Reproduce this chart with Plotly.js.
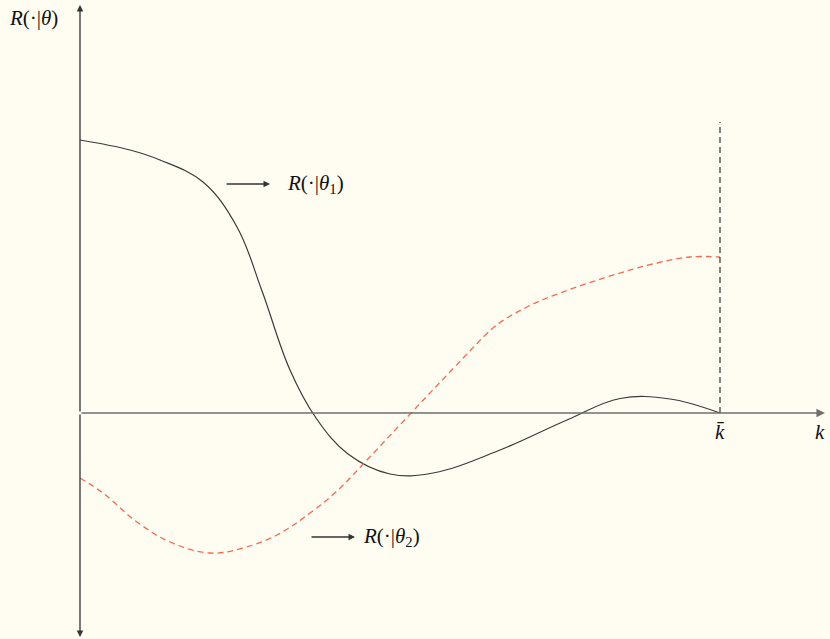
<!DOCTYPE html>
<html>
<head>
<meta charset="utf-8">
<script src="https://cdn.plot.ly/plotly-3.0.1.min.js"></script>
<style>
  html, body { margin: 0; padding: 0; background: #fffdf1; }
  #chart { width: 830px; height: 639px; }
</style>
</head>
<body>
<div id="chart"></div>
<script>
// Return function R(k | theta) for two states, k on [0, kBar]
const kBar = 10;

const kTheta1 = [0, 0.781, 1.25, 1.922, 2.453, 2.844, 3.281, 3.688, 4.188,
  4.844, 5.516, 6.563, 7.609, 8.438, 9.219, 10];
const rTheta1 = [5.46, 5.26, 5.06, 4.62, 3.72, 2.44, 0.86, -0.10, -0.82,
  -1.22, -1.20, -0.74, -0.14, 0.29, 0.28, 0];

const kTheta2 = [0, 0.359, 0.891, 1.406, 2.031, 2.547, 3.078, 3.594, 4.016, 4.484,
  5.203, 5.781, 6.453, 6.672, 6.984, 7.297, 8.234, 9.016, 9.531, 10];
const rTheta2 = [-1.30, -1.60, -2.18, -2.58, -2.80, -2.70, -2.44, -2.00, -1.56, -0.94,
  0.04, 0.82, 1.70, 1.90, 2.12, 2.30, 2.72, 3.00, 3.12, 3.12];

// Height of the dashed marker at k-bar
const kBarTop = 5.82;

const axisTop = 8.16, axisBottom = -4.48, axisRight = 11.64;

const serif = 'Liberation Serif, Times New Roman, serif';

const traces = [
  {
    x: kTheta1, y: rTheta1, mode: 'lines', type: 'scatter',
    line: { color: '#3a3a3a', width: 1.2, shape: 'spline', smoothing: 1.1 },
    hoverinfo: 'skip'
  },
  {
    x: kTheta2, y: rTheta2, mode: 'lines', type: 'scatter',
    line: { color: '#f26b52', width: 1.3, dash: '6px,4px', shape: 'spline', smoothing: 1.1 },
    hoverinfo: 'skip'
  },
  {
    x: [kBar, kBar], y: [0, kBarTop], mode: 'lines', type: 'scatter',
    line: { color: '#222', width: 1.1, dash: '6px,4px' },
    hoverinfo: 'skip'
  }
];

function arrow(x0, y0, x1, y1, color, width) {
  return {
    x: x1, y: y1, ax: x0, ay: y0, xref: 'x', yref: 'y', axref: 'x', ayref: 'y',
    text: '', showarrow: true, arrowhead: 2, arrowsize: 1, arrowwidth: width,
    arrowcolor: color, standoff: 0, startstandoff: 0
  };
}

function label(x, y, text, size) {
  return {
    x: x, y: y, xref: 'x', yref: 'y', text: text, showarrow: false,
    font: { family: serif, size: size || 21, color: '#111' }
  };
}

const annotations = [
  // axes
  arrow(0, 0, 0, axisTop, '#333', 1.3),
  arrow(0, 0, 0, axisBottom, '#333', 1.3),
  arrow(0, 0, axisRight, 0, '#6f6f6f', 1.7),
  // curve pointers
  arrow(2.266, 4.58, 2.969, 4.58, '#333', 1.3),
  arrow(3.594, -2.48, 4.297, -2.48, '#333', 1.3),
  label(3.68, 4.58, '<i>R</i>(·|<i>θ</i><sub>1</sub>)'),
  label(4.86, -2.48, '<i>R</i>(·|<i>θ</i><sub>2</sub>)'),
  label(-0.734, 7.90, '<i>R</i>(·|<i>θ</i>)'),
  label(11.5625, -0.38, '<i>k</i>'),
  label(10, -0.38, '<i>k\u0304</i>')
];

const layout = {
  width: 830, height: 639,
  margin: { l: 0, r: 0, t: 0, b: 0 },
  font: { family: serif },
  paper_bgcolor: '#fffdf1', plot_bgcolor: '#fffdf1',
  showlegend: false,
  xaxis: { range: [-1.25, 11.71875], visible: false, fixedrange: true },
  yaxis: { range: [-4.52, 8.26], visible: false, fixedrange: true },
  annotations: annotations
};

Plotly.newPlot('chart', traces, layout, { staticPlot: true });
</script>
</body>
</html>
